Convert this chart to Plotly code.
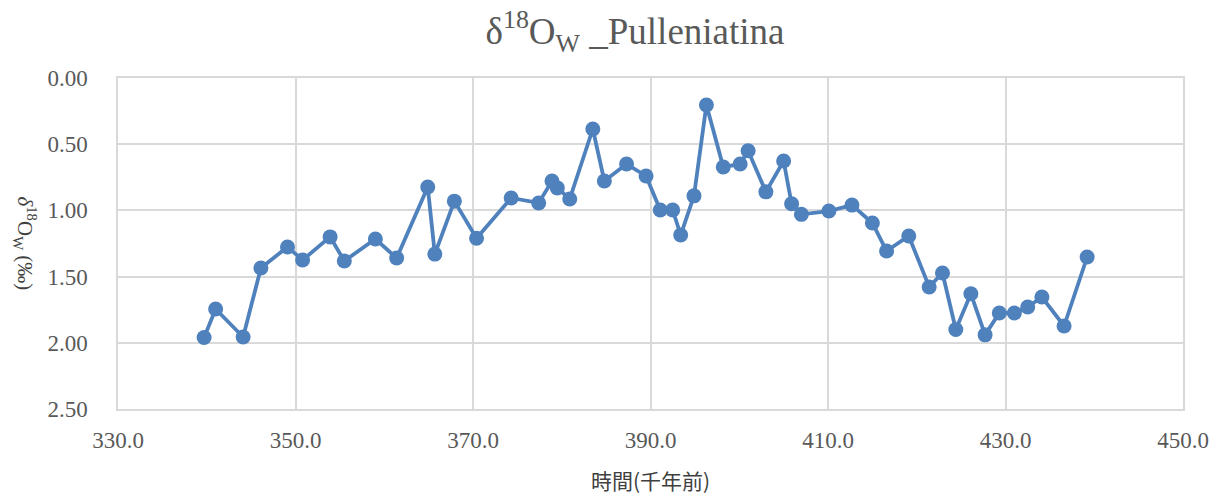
import plotly.graph_objects as go

# 年代(千年前) と δ18Ow 値
age_ka = [
    339.7, 341.0, 344.1, 346.1, 349.1, 350.8, 353.9, 355.5, 359.0, 361.4,
    364.9, 365.7, 367.9, 370.4, 374.3, 377.4, 378.9, 379.5, 380.9, 383.5,
    384.8, 387.3, 389.5, 391.1, 392.5, 393.4, 394.9, 396.3, 398.2, 400.1,
    401.0, 403.0, 405.0, 405.9, 407.0, 410.1, 412.7, 415.0, 416.6, 419.1,
    421.4, 422.9, 424.4, 426.1, 427.7, 429.3, 431.0, 432.5, 434.1, 436.6,
    439.2,
]
d18ow = [
    1.96, 1.745, 1.956, 1.435, 1.276, 1.375, 1.20, 1.382, 1.216, 1.36,
    0.823, 1.33, 0.93, 1.21, 0.906, 0.944, 0.778, 0.83, 0.914, 0.385,
    0.778, 0.65, 0.74, 0.997, 0.997, 1.186, 0.89, 0.204, 0.672, 0.65,
    0.55, 0.86, 0.627, 0.95, 1.03, 1.005, 0.96, 1.095, 1.307, 1.193,
    1.578, 1.473, 1.90, 1.63, 1.94, 1.775, 1.775, 1.73, 1.654, 1.873,
    1.352,
]

W, H = 1219, 499
tick_font = {"family": "Liberation Serif", "size": 23, "color": "#595959"}
grid = "#d9d9d9"

fig = go.Figure()
fig.add_trace(
    go.Scatter(
        x=age_ka,
        y=d18ow,
        mode="lines+markers",
        line={"color": "#4f81bd", "width": 3.8},
        marker={"color": "#4f81bd", "size": 15},
        showlegend=False,
    )
)

# ページ余白(8px)を差し引いた位置
fig.update_layout(
    width=W,
    height=H,
    paper_bgcolor="white",
    plot_bgcolor="white",
    margin={"l": 110, "r": 44, "t": 70, "b": 98, "autoexpand": False},
    title={
        "text": "δ<sup>18</sup>O<sub>W</sub> _Pulleniatina",
        "x": 627 / W,
        "xanchor": "center",
        "y": 1 - 23 / H,
        "yanchor": "middle",
        "font": {"family": "Liberation Serif", "size": 37, "color": "#595959"},
    },
    xaxis={
        "range": [330, 450],
        "dtick": 20,
        "tick0": 330,
        "tickformat": ".1f",
        "showgrid": True,
        "gridcolor": grid,
        "gridwidth": 1.5,
        "showline": True,
        "linecolor": grid,
        "linewidth": 1.5,
        "mirror": True,
        "zeroline": False,
        "ticks": "",
        "automargin": False,
        "ticklabelstandoff": 10,
        "tickfont": tick_font,
        "title": {
            "text": "時間(千年前)",
            "font": {"family": "Noto Sans CJK TC", "size": 21, "color": "#404040"},
            "standoff": 22,
        },
    },
    yaxis={
        "range": [2.5, 0],
        "dtick": 0.5,
        "tickformat": ".2f",
        "showgrid": True,
        "gridcolor": grid,
        "gridwidth": 1.5,
        "showline": True,
        "linecolor": grid,
        "linewidth": 1.5,
        "mirror": True,
        "zeroline": False,
        "ticks": "",
        "automargin": False,
        "ticklabelstandoff": 24,
        "tickfont": tick_font,
    },
    annotations=[
        {
            "text": "<i>δ</i><sup>18</sup>O<sub>W</sub> (‰)",
            "xref": "paper",
            "yref": "paper",
            "x": (17 - 110) / 1065,
            "xanchor": "center",
            "y": 0.5,
            "yanchor": "middle",
            "showarrow": False,
            "textangle": 90,
            "font": {"family": "Liberation Serif", "size": 21, "color": "#404040"},
        }
    ],
)

fig.write_html("out.html")
